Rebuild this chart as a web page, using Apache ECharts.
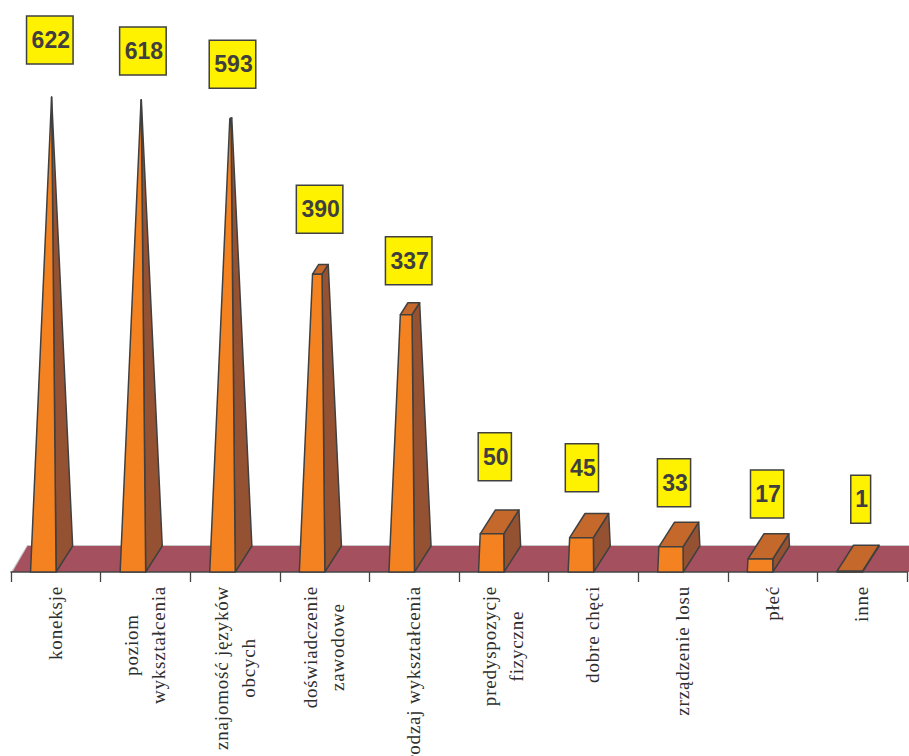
<!DOCTYPE html>
<html>
<head>
<meta charset="utf-8">
<style>
html,body{margin:0;padding:0;background:#fff;overflow:hidden}
#main{width:909px;height:756px}
#main text[style*="Serif"]{letter-spacing:0.8px}
</style>
<script src="https://cdn.jsdelivr.net/npm/echarts@6/dist/echarts.min.js"></script>
</head>
<body>
<div id="main"></div>
<script>
const categories = ['koneksje','poziom\nwykształcenia','znajomość języków\nobcych','doświadczenie\nzawodowe','rodzaj wykształcenia','predyspozycje\nfizyczne','dobre chęci','zrządzenie losu','płeć','inne'];
const values = [622,618,593,390,337,50,45,33,17,1];

// hand-placed label nudges of the original, relative to each bar's top (px)
const labelShiftX = [-6,-2.5,-2.5,-5,-5.5,-9,-11.5,-9,-5.5,-1.5];
const labelGapY = [33,25,31,41,30,53,46,40,41,48];

const apexValue = 622;
const COL = {front:'#F58220',side:'#945233',top:'#C4682B',floor:'#A5505F',floorEdge:'#C8C8C8',line:'#404040',box:'#FFF200',num:'#3F3F3F',cat:'#2E2E2E'};
const SPACING = 0.8, LABEL_FONT = "19px 'Liberation Serif'";
const mctx = document.createElement('canvas').getContext('2d');
function textLen(s){mctx.font=LABEL_FONT;return mctx.measureText(s).width+s.length*SPACING;}

const DEPTH_Y = 26;
function geom(api){
  const catW = api.size([1,0])[0];
  return {catW, w:catW*0.285, dx:catW*0.185, left:-catW*0.5+catW*0.218};
}

function renderFloor(params, api){
  const g = geom(api);
  const p0 = api.coord([0,0]);
  const xL = p0[0]-g.catW/2, y0=p0[1], xR = xL+g.catW*10+20;
  return {type:'group',children:[
    {type:'polygon',shape:{points:[[xL,y0],[xL+g.dx-0.5,y0-DEPTH_Y-1],[xR,y0-DEPTH_Y-1],[xR,y0]]},style:{fill:COL.floorEdge}},
    {type:'polygon',shape:{points:[[xL+1.5,y0],[xL+g.dx,y0-DEPTH_Y],[xR,y0-DEPTH_Y],[xR,y0]]},style:{fill:COL.floor}}
  ]};
}

function renderPyramid(params, api){
  const i = api.value(0), v = api.value(1);
  const g = geom(api);
  const c = api.coord([i,0]);
  const x0 = c[0]+g.left, y0 = c[1];
  const frontTopY = api.coord([i,v])[1];
  const t = v/apexValue, s = 1-t;
  const w=g.w, dx=g.dx;
  const baseBR=[x0+w,y0], baseBL=[x0,y0], baseBackR=[x0+w+dx,y0-DEPTH_Y];
  const cx=x0+w/2+dx/2;
  const cy=frontTopY-DEPTH_Y/2*s;
  const corner=(u,d)=>[cx+u*w/2*s+d*dx/2*s, cy-d*DEPTH_Y/2*s];
  const FL=corner(-1,-1),FR=corner(1,-1),BR=corner(1,1),BL=corner(-1,1);
  const st=(fill)=>({fill,stroke:COL.line,lineWidth:1.5,lineJoin:'round'});
  return {type:'group',children:[
    {type:'polygon',shape:{points:[baseBR,baseBackR,BR,FR]},style:st(COL.side)},
    {type:'polygon',shape:{points:[FL,FR,BR,BL]},style:st(COL.top)},
    {type:'polygon',shape:{points:[baseBL,baseBR,FR,FL]},style:st(COL.front)}
  ]};
}

function renderValueBox(params, api){
  const i = api.value(0), v = api.value(1);
  const c = api.coord([i,v]);
  const str = String(v);
  const bw = str.length*13.35+6.5, bh=48;
  const cx = c[0]+labelShiftX[i];
  const bottom = c[1]-labelGapY[i];
  return {type:'group',children:[
    {type:'rect',shape:{x:cx-bw/2,y:bottom-bh,width:bw,height:bh},style:{fill:COL.box,stroke:COL.line,lineWidth:1.5}},
    {type:'text',x:cx+1,y:bottom-bh/2,style:{text:str,fill:COL.num,font:"bold 23px 'Liberation Sans'",align:'center',verticalAlign:'middle'}}
  ]};
}

function renderCatLabel(params, api){
  const i = api.value(0);
  const c = api.coord([i,0]);
  const lines = categories[i].split('\n');
  const maxLen = Math.max(...lines.map(textLen));
  const pitch = 27, yc = c[1]+14+maxLen/2;
  return {type:'group',children:lines.map((ln,k)=>({
    type:'text',
    x:c[0]+(k-(lines.length-1)/2)*pitch-0.5,
    y:yc,
    rotation:Math.PI/2,
    style:{text:ln,fill:COL.cat,font:LABEL_FONT,align:'center',verticalAlign:'middle'}
  }))};
}

const pairs = values.map((v,i)=>[i,v]);
const chart = echarts.init(document.getElementById('main'),null,{renderer:'svg',width:909,height:756});
chart.setOption({
  animation:false,
  backgroundColor:'#fff',
  grid:{left:11,right:2,top:0,bottom:184},
  xAxis:{type:'category',data:categories,boundaryGap:true,
    axisLine:{show:true,lineStyle:{color:'#444',width:1.5}},
    axisTick:{show:true,length:10,alignWithLabel:false,interval:0,lineStyle:{color:'#444',width:1.3}},
    axisLabel:{show:false},splitLine:{show:false},z:5},
  yAxis:{type:'value',min:0,max:749,show:false,splitLine:{show:false}},
  series:[
    {type:'custom',name:'floor',data:[[0,0]],renderItem:renderFloor,clip:false,z:1,silent:true},
    {type:'custom',name:'pyramids',data:pairs,renderItem:renderPyramid,clip:false,z:6},
    {type:'custom',name:'values',data:pairs,renderItem:renderValueBox,clip:false,z:7},
    {type:'custom',name:'categories',data:pairs,renderItem:renderCatLabel,clip:false,z:7}
  ]
});
</script>
</body>
</html>
